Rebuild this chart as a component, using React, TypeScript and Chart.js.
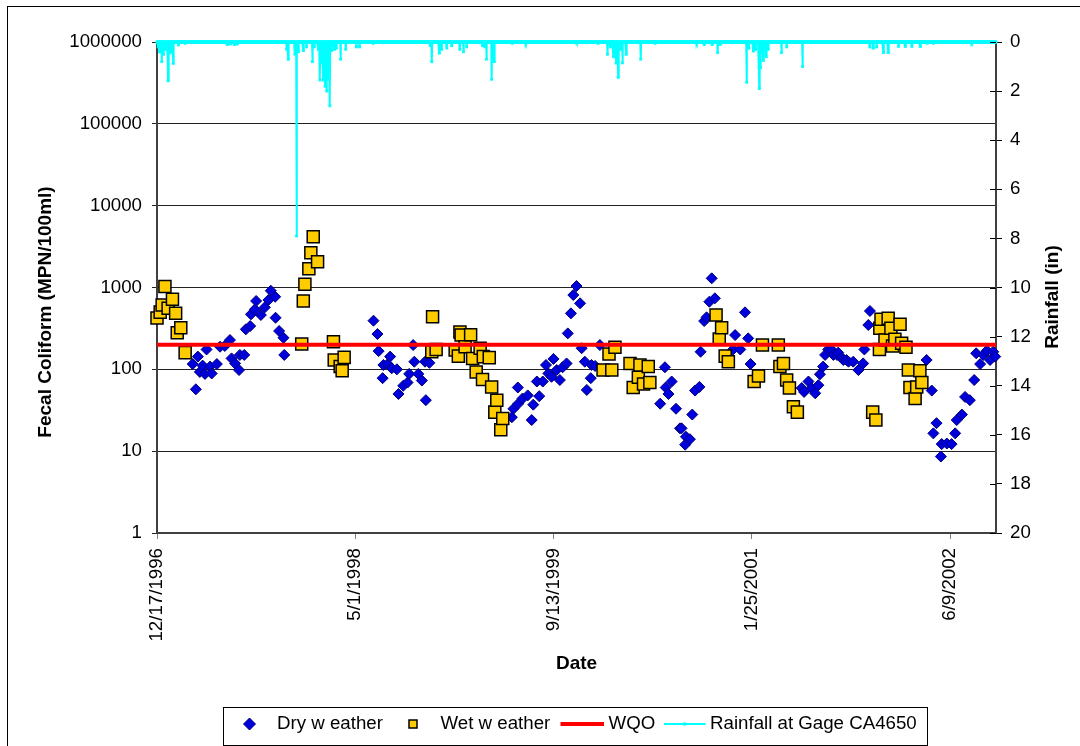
import React, { useEffect, useRef } from "react";
import { Chart, registerables } from "chart.js";

Chart.register(...registerables);

// ---- axis / reference values ----
const X_MAX = 2116; // days after 12/17/1996
const X_TICKS = [0, 500, 1000, 1500, 2000];
const Y_TICKS = [1, 10, 100, 1000, 10000, 100000, 1000000];
const RAIN_TICKS = [0, 2, 4, 6, 8, 10, 12, 14, 16, 18, 20];
const WQO = 200;

// ---- Dry weather samples (day offset, MPN/100ml) ----
const dryDays = [
  90, 98, 103, 108, 115, 121, 125, 134, 138, 151, 159, 171, 184, 188, 197, 207, 209, 220, 224, 235, 237, 247, 250, 262, 272, 281, 287, 298, 299, 308, 319, 321,
  546, 556, 559, 569, 571, 582, 588, 592, 605, 609, 621, 632, 636, 646, 649, 659, 668, 676, 678, 687,
  895, 899, 910, 911, 922, 935, 945, 949, 958, 964, 973, 981, 987, 995, 1000, 1008, 1016, 1023, 1033, 1036, 1044, 1050, 1058, 1067, 1071, 1079, 1084, 1094, 1096, 1105, 1117,
  1269, 1281, 1283, 1290, 1298, 1309, 1319, 1323, 1332, 1334, 1344, 1350, 1357, 1368, 1371, 1380, 1386, 1393, 1399, 1407, 1453, 1458, 1471, 1483, 1491, 1497,
  1626, 1632, 1643, 1651, 1660, 1668, 1672, 1680, 1685, 1693, 1702, 1706, 1715, 1718, 1727, 1731, 1739, 1744, 1756, 1769, 1781, 1784, 1794, 1798,
  1941, 1954, 1958, 1966, 1977, 1979, 1992, 2004, 2013, 2017, 2030, 2038, 2050, 2061, 2066, 2076, 2084, 2093, 2101, 2109, 2114,
];
const dryValues = [
  116, 57, 143, 93, 111, 88, 175, 108, 89, 116, 189, 193, 228, 136, 118, 98, 150, 150, 308, 338, 470, 541, 684, 461, 573, 703, 913, 771, 427, 294, 243, 150,
  393, 270, 167, 78, 113, 116, 143, 103, 100, 50, 63, 69, 88, 198, 124, 88, 73, 124, 42, 120,
  26, 33, 60, 38, 44, 48, 24, 37, 71, 47, 71, 113, 89, 81, 134, 98, 74, 106, 118, 275, 483, 809, 1042, 641, 181, 124, 56, 78, 113, 110, 198,
  38, 106, 60, 50, 71, 33, 19, 19, 12, 15, 14, 28, 55, 61, 164, 389, 432, 670, 1294, 738, 175, 262, 175, 497, 239, 116,
  59, 53, 71, 59, 51, 64, 87, 108, 150, 175, 172, 150, 150, 160, 139, 130, 130, 124, 124, 98, 118, 175, 348, 516,
  130, 55, 16.5, 22, 8.6, 12.2, 12.4, 12.2, 16.5, 24, 28, 46, 42, 74, 157, 116, 150, 169, 130, 164, 143,
];

// ---- Wet weather samples (day offset, MPN/100ml) ----
const wetDays = [
  0, 8, 13, 20, 28, 39, 47, 51, 60, 71,
  365, 369, 373, 383, 388, 394, 405, 445, 447, 462, 467, 472,
  693, 695, 704, 752, 760, 764, 767, 777, 791, 796, 805, 815, 821, 823, 838, 844, 852, 857, 867, 872,
  1125, 1140, 1147, 1155, 1193, 1201, 1214, 1218, 1227, 1239, 1243,
  1410, 1418, 1424, 1433, 1441, 1506, 1517, 1527, 1567, 1571, 1580, 1588, 1595, 1605, 1615,
  1805, 1813, 1822, 1823, 1826, 1836, 1844, 1851, 1855, 1861, 1874, 1878, 1889, 1895, 1899, 1912, 1916, 1924, 1929,
];
const wetValues = [
  424, 500, 611, 1030, 556, 717, 483, 280, 322, 160,
  204, 684, 1093, 1695, 2660, 4170, 2065, 217, 130, 108, 96, 140,
  164, 439, 175, 172, 145, 286, 262, 189, 265, 136, 93, 181, 75, 143, 139, 61, 30, 42, 18.3, 25,
  98, 154, 98, 186, 118, 60, 80, 113, 66, 108, 69,
  461, 235, 322, 145, 124, 71, 83, 198, 198, 108, 118, 74, 59, 35, 30,
  30, 24, 175, 317, 408, 228, 420, 317, 193, 233, 355, 208, 186, 98, 60, 44, 61, 96, 69,
];

// ---- Rainfall at Gage CA4650 (day offset, inches); all other days are 0 ----
const rainDays = [
  3, 6, 12, 16, 20, 24, 28, 32, 35, 41, 54, 71, 177, 185, 195, 202,
  327, 331, 348, 352, 356, 369, 377, 392, 396, 407, 411, 415, 419, 424, 428, 432, 436, 440, 447, 452, 463, 476, 503, 511, 545,
  689, 693, 712, 718, 731, 743, 764, 773, 781, 821, 827, 831, 844, 850, 896, 930,
  1058, 1113, 1136, 1143, 1151, 1158, 1163, 1169, 1174, 1183, 1220, 1256,
  1361, 1380, 1400, 1414, 1420, 1487, 1493, 1504, 1510, 1519, 1522, 1529, 1536, 1541, 1575, 1588, 1628,
  1798, 1806, 1815, 1832, 1844, 1870, 1887, 1904, 1925, 1942, 1958, 2055,
];
const rainInches = [
  0.2, 0.4, 0.8, 0.5, 0.3, 0.3, 1.58, 0.45, 0.4, 0.87, 0.12, 0.05, 0.1, 0.08, 0.1, 0.08,
  0.3, 0.7, 0.5, 7.9, 0.4, 0.35, 0.2, 0.8, 0.2, 0.3, 1.55, 0.85, 1.55, 1.8, 2.0, 1.5, 2.6, 0.35, 0.3, 0.25, 0.7, 0.3, 0.2, 0.2, 0.05,
  0.15, 0.8, 0.45, 0.3, 0.25, 0.15, 0.3, 0.4, 0.2, 0.15, 0.2, 0.7, 1.52, 0.8, 0.05, 0.05,
  0.05, 0.05, 0.5, 0.2, 0.6, 0.86, 1.44, 0.3, 0.85, 0.5, 0.7, 0.05,
  0.05, 0.1, 0.1, 0.43, 0.1, 1.64, 0.25, 0.37, 0.3, 1.89, 1.05, 0.75, 0.6, 0.3, 0.43, 0.2, 1.0,
  0.2, 0.25, 0.2, 0.43, 0.43, 0.18, 0.18, 0.18, 0.18, 0.05, 0.05, 0.05,
];

const FONT = '"Liberation Sans", Arial, Helvetica, sans-serif';
const TICK_SIZE = 18.7;

function fmtDate(d: number): string {
  const dt = new Date(1996, 11, 17 + d);
  return `${dt.getMonth() + 1}/${dt.getDate()}/${dt.getFullYear()}`;
}

const decorPlugin = {
  id: "decor",
  beforeDraw(chart: any) {
    const ctx = chart.ctx;
    ctx.save();
    ctx.fillStyle = "#fff";
    ctx.fillRect(0, 0, chart.width, chart.height);
    ctx.strokeStyle = "#000";
    ctx.lineWidth = 1;
    ctx.strokeRect(7.5, 6.5, 1300, 900);
    ctx.restore();
  },
  afterDraw(chart: any) {
    const ctx = chart.ctx;
    const area = chart.chartArea;
    ctx.save();
    // inner tick marks of the rainfall axis (cross style)
    const y1 = chart.scales.y1;
    ctx.strokeStyle = "#000";
    ctx.lineWidth = 1;
    for (const t of y1.ticks) {
      const py = Math.round(y1.getPixelForValue(t.value)) + 0.5;
      ctx.beginPath();
      ctx.moveTo(area.right - 6, py);
      ctx.lineTo(area.right, py);
      ctx.stroke();
    }
    // axis titles
    ctx.fillStyle = "#000";
    ctx.font = `bold 19px ${FONT}`;
    ctx.textAlign = "center";
    ctx.textBaseline = "middle";
    ctx.save();
    ctx.translate(46, 312);
    ctx.rotate(-Math.PI / 2);
    ctx.fillText("Fecal Coliform (MPN/100ml)", 0, 0);
    ctx.restore();
    ctx.save();
    ctx.translate(1053, 297);
    ctx.rotate(-Math.PI / 2);
    ctx.fillText("Rainfall (in)", 0, 0);
    ctx.restore();
    ctx.fillText("Date", (area.left + area.right) / 2, 664);

    // legend
    const ly = 724;
    ctx.strokeStyle = "#000";
    ctx.lineWidth = 1;
    ctx.strokeRect(223.5, 707.5, 704, 38);
    ctx.font = `${TICK_SIZE}px ${FONT}`;
    ctx.textAlign = "left";
    // dry diamond
    ctx.beginPath();
    ctx.moveTo(249.5 - 6, ly);
    ctx.lineTo(249.5, ly - 6);
    ctx.lineTo(249.5 + 6, ly);
    ctx.lineTo(249.5, ly + 6);
    ctx.closePath();
    ctx.fillStyle = "#0000DD";
    ctx.fill();
    ctx.strokeStyle = "#00007A";
    ctx.stroke();
    ctx.fillStyle = "#000";
    ctx.fillText("Dry w eather", 277, ly);
    // wet square
    ctx.fillStyle = "#FFCC00";
    ctx.fillRect(409, ly - 4, 8, 8);
    ctx.strokeStyle = "#000";
    ctx.lineWidth = 1.5;
    ctx.strokeRect(409, ly - 4, 8, 8);
    ctx.fillStyle = "#000";
    ctx.fillText("Wet w eather", 440.5, ly);
    // WQO line
    ctx.strokeStyle = "#FF0000";
    ctx.lineWidth = 4;
    ctx.beginPath();
    ctx.moveTo(560.5, ly);
    ctx.lineTo(604, ly);
    ctx.stroke();
    ctx.fillText("WQO", 608.5, ly);
    // rainfall line
    ctx.strokeStyle = "#00FFFF";
    ctx.lineWidth = 2;
    ctx.beginPath();
    ctx.moveTo(664, ly);
    ctx.lineTo(705.5, ly);
    ctx.stroke();
    ctx.fillStyle = "#00FFFF";
    ctx.fillRect(683, ly - 1.5, 3, 3);
    ctx.fillStyle = "#000";
    ctx.fillText("Rainfall at Gage CA4650", 710, ly);
    ctx.restore();
  },
};

export default function App() {
  const ref = useRef<HTMLCanvasElement | null>(null);

  useEffect(() => {
    if (!ref.current) return;
    Chart.defaults.font.family = FONT;
    const rainMap = new Map<number, number>();
    rainDays.forEach((d, i) => rainMap.set(d, rainInches[i]));
    const rainSeries: { x: number; y: number }[] = [];
    for (let d = 0; d <= X_MAX; d++) rainSeries.push({ x: d, y: rainMap.get(d) ?? 0 });

    const chart = new Chart(ref.current, {
      type: "line",
      data: {
        datasets: [
          {
            type: "line",
            label: "Rainfall at Gage CA4650",
            yAxisID: "y1",
            data: rainSeries,
            borderColor: "#00FFFF",
            backgroundColor: "#00FFFF",
            borderWidth: 2,
            pointRadius: 2,
            pointStyle: "rect",
            pointBorderWidth: 0,
            pointBackgroundColor: "#00FFFF",
            tension: 0,
            clip: 6,
            order: 0,
          } as any,
          {
            type: "line",
            label: "WQO",
            yAxisID: "y",
            data: [
              { x: 0, y: WQO },
              { x: X_MAX, y: WQO },
            ],
            borderColor: "#FF0000",
            borderWidth: 4,
            pointRadius: 0,
            order: 1,
          } as any,
          {
            type: "scatter",
            label: "Wet w eather",
            yAxisID: "y",
            data: wetDays.map((d, i) => ({ x: d, y: wetValues[i] })),
            pointStyle: "rect",
            pointRadius: 8.5,
            backgroundColor: "#FFCC00",
            borderColor: "#000000",
            borderWidth: 1.5,
            clip: 10,
            order: 2,
          } as any,
          {
            type: "scatter",
            label: "Dry w eather",
            yAxisID: "y",
            data: dryDays.map((d, i) => ({ x: d, y: dryValues[i] })),
            pointStyle: "rectRot",
            pointRadius: 5.5,
            backgroundColor: "#0000DD",
            borderColor: "#00007A",
            borderWidth: 1,
            clip: 10,
            order: 3,
          } as any,
        ],
      },
      options: {
        animation: false,
        responsive: false,
        devicePixelRatio: 1,
        events: [],
        layout: { padding: { top: 42, left: 0, right: 0, bottom: 0 } },
        plugins: { legend: { display: false }, tooltip: { enabled: false }, title: { display: false } },
        scales: {
          x: {
            type: "linear",
            position: "bottom",
            min: 0,
            max: X_MAX,
            afterBuildTicks: (s: any) => {
              s.ticks = X_TICKS.map((v) => ({ value: v }));
            },
            afterFit: (s: any) => {
              s.height = 213;
            },
            ticks: {
              autoSkip: false,
              maxRotation: 90,
              minRotation: 90,
              padding: 9,
              color: "#000",
              font: { size: TICK_SIZE, family: FONT },
              callback: (v: any) => fmtDate(Number(v)),
            },
            grid: { drawOnChartArea: false, drawTicks: true, tickLength: 6, color: "#808080" },
            border: { display: true, color: "#404040", width: 2 },
          },
          y: {
            type: "logarithmic",
            position: "left",
            min: 1,
            max: 1000000,
            afterBuildTicks: (s: any) => {
              s.ticks = Y_TICKS.map((v) => ({ value: v }));
            },
            afterFit: (s: any) => {
              s.width = 157;
            },
            ticks: {
              padding: 10,
              color: "#000",
              font: { size: TICK_SIZE, family: FONT },
              callback: (v: any) => String(v),
            },
            grid: { color: "#222", lineWidth: 1, tickLength: 5, drawTicks: true },
            border: { display: true, color: "#404040", width: 2 },
          },
          y1: {
            type: "linear",
            position: "right",
            reverse: true,
            min: 0,
            max: 20,
            afterBuildTicks: (s: any) => {
              s.ticks = RAIN_TICKS.map((v) => ({ value: v }));
            },
            afterFit: (s: any) => {
              s.width = 84;
            },
            ticks: {
              padding: 8,
              color: "#000",
              font: { size: TICK_SIZE, family: FONT },
              callback: (v: any) => String(v),
            },
            grid: { drawOnChartArea: false, tickLength: 6, color: "#000" },
            border: { display: true, color: "#404040", width: 2 },
          },
        },
      } as any,
      plugins: [decorPlugin],
    });
    return () => chart.destroy();
  }, []);

  return (
    <div style={{ position: "fixed", left: 0, top: 0, width: 1080, height: 746, background: "#fff" }}>
      <canvas ref={ref} width={1080} height={746} style={{ width: 1080, height: 746, display: "block" }} />
    </div>
  );
}
